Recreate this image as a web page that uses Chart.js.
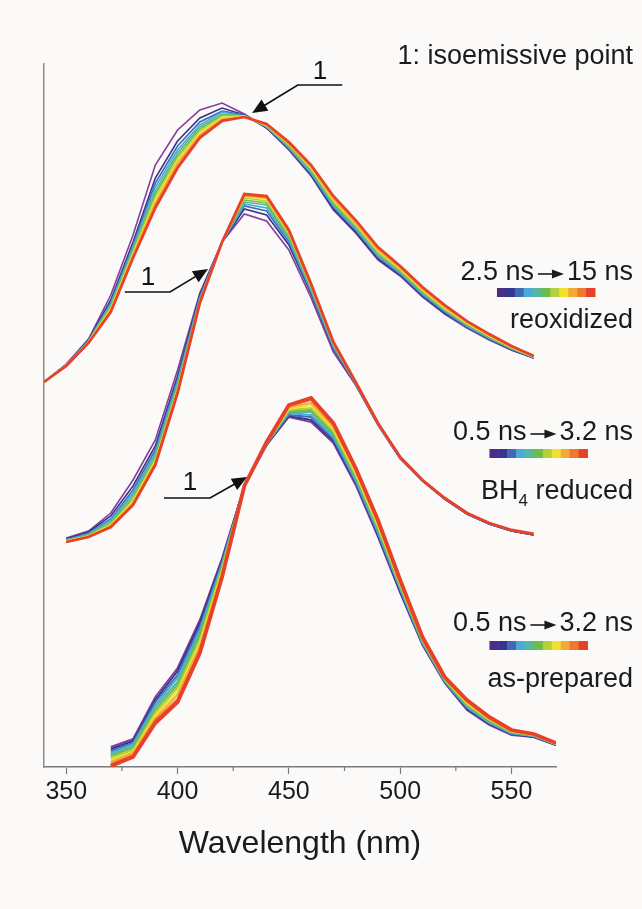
<!DOCTYPE html>
<html>
<head>
<meta charset="utf-8">
<title>Time-resolved emission spectra</title>
<script src="https://cdn.jsdelivr.net/npm/chart.js@4.4.0/dist/chart.umd.min.js"></script>
<style>
    html, body { margin: 0; padding: 0; background: #fcfaf8; }
    #wrap { width: 642px; height: 909px; position: relative; }
</style>
</head>
<body>
<div id="wrap"><canvas id="chart"></canvas></div>
<script>
// x values (nm) of each sample
const reoxWavelengths = [340, 350, 360, 370, 380, 390, 400, 410, 420, 430, 440, 450, 460, 470, 480, 490, 500, 510, 520, 530, 540, 550, 560];
const bh4Wavelengths = [350, 360, 370, 380, 390, 400, 410, 420, 430, 440, 450, 460, 470, 480, 490, 500, 510, 520, 530, 540, 550, 560];
const asPrepWavelengths = [370, 380, 390, 400, 410, 420, 430, 440, 450, 460, 470, 480, 490, 500, 510, 520, 530, 540, 550, 560, 570];

// stacked intensity (a.u.), one row per delay, earliest first
const reoxSpectra = [
    [385, 403, 428, 472, 532, 602, 637, 657, 664, 653, 639, 617, 591, 557, 534, 507, 491, 470, 453, 439, 427, 417, 409],
    [385, 402, 427, 467, 525, 589, 626, 649, 659, 652, 639, 618, 592, 558, 535, 508, 492, 471, 454, 440, 428, 417, 409],
    [385, 402, 426, 465, 522, 584, 621, 645, 656, 652, 640, 619, 593, 560, 537, 510, 493, 472, 455, 440, 428, 418, 409],
    [385, 402, 426, 463, 520, 580, 617, 642, 655, 651, 640, 619, 594, 561, 538, 511, 494, 473, 456, 441, 429, 418, 410],
    [385, 402, 426, 462, 518, 576, 614, 640, 653, 651, 641, 620, 595, 563, 539, 512, 495, 474, 457, 442, 429, 419, 410],
    [385, 402, 425, 460, 516, 573, 611, 638, 652, 651, 641, 621, 597, 564, 541, 514, 496, 475, 458, 443, 430, 419, 410],
    [385, 401, 425, 459, 515, 570, 609, 636, 651, 651, 641, 622, 598, 565, 542, 515, 497, 476, 458, 443, 431, 419, 410],
    [385, 401, 425, 458, 513, 567, 606, 634, 649, 651, 642, 623, 599, 567, 543, 516, 498, 477, 459, 444, 431, 420, 410],
    [385, 401, 424, 457, 512, 564, 604, 632, 648, 650, 642, 623, 600, 568, 544, 517, 499, 478, 460, 445, 432, 420, 411],
    [385, 401, 424, 456, 510, 562, 601, 631, 647, 650, 643, 624, 601, 570, 546, 519, 500, 479, 461, 445, 432, 421, 411],
    [385, 401, 424, 455, 509, 559, 599, 629, 646, 650, 643, 625, 602, 571, 547, 520, 501, 480, 462, 446, 433, 421, 411]
];

const bh4Spectra = [
    [229, 236, 254, 287, 327, 397, 474, 525, 553, 546, 517, 469, 415, 382, 342, 308, 286, 268, 253, 243, 236, 232],
    [228, 235, 251, 281, 321, 391, 472, 525, 558, 552, 522, 473, 418, 383, 343, 309, 286, 268, 253, 243, 236, 232],
    [227, 234, 248, 277, 317, 388, 470, 525, 561, 556, 525, 475, 419, 383, 343, 309, 286, 268, 253, 243, 236, 232],
    [227, 233, 247, 274, 314, 385, 469, 525, 563, 559, 527, 476, 420, 384, 343, 309, 287, 269, 254, 244, 237, 233],
    [227, 232, 245, 272, 312, 383, 468, 525, 565, 562, 529, 478, 421, 384, 343, 309, 287, 269, 254, 244, 237, 233],
    [226, 232, 244, 269, 309, 381, 467, 525, 567, 564, 531, 479, 422, 384, 343, 309, 287, 269, 254, 244, 237, 233],
    [226, 231, 243, 267, 307, 379, 466, 525, 569, 566, 533, 480, 423, 384, 344, 310, 287, 269, 254, 244, 237, 233],
    [226, 231, 242, 266, 306, 377, 465, 525, 570, 568, 534, 481, 424, 385, 344, 310, 287, 269, 254, 244, 237, 233],
    [225, 230, 241, 264, 304, 376, 465, 525, 571, 569, 535, 482, 424, 385, 344, 310, 287, 269, 254, 244, 237, 233],
    [225, 230, 240, 263, 303, 375, 464, 525, 572, 570, 536, 483, 425, 385, 344, 310, 287, 269, 254, 244, 237, 233],
    [225, 230, 240, 262, 302, 374, 464, 525, 573, 571, 537, 483, 425, 385, 344, 310, 287, 269, 254, 244, 237, 233]
];

const asPrepSpectra = [
    [20, 28, 70, 99, 147, 209, 281, 322, 350, 345, 324, 282, 230, 174, 122, 84, 57, 42, 32, 30, 22],
    [18, 26, 67, 96, 144, 207, 281, 322, 351, 347, 326, 284, 232, 175, 123, 85, 58, 43, 33, 30, 22],
    [16, 24, 65, 92, 140, 205, 281, 323, 352, 350, 328, 285, 233, 177, 124, 85, 59, 44, 33, 31, 22],
    [14, 23, 62, 89, 137, 203, 281, 323, 354, 352, 330, 287, 235, 178, 124, 86, 60, 44, 34, 31, 23],
    [12, 21, 60, 85, 134, 201, 281, 323, 355, 355, 332, 289, 237, 179, 125, 86, 61, 45, 34, 31, 23],
    [11, 19, 57, 82, 131, 200, 281, 324, 356, 357, 334, 291, 239, 181, 126, 87, 62, 46, 35, 32, 23],
    [9, 17, 54, 79, 127, 198, 281, 324, 357, 359, 336, 292, 240, 182, 127, 88, 63, 47, 35, 32, 23],
    [7, 15, 52, 75, 124, 196, 281, 324, 358, 362, 338, 294, 242, 183, 128, 88, 64, 48, 36, 32, 23],
    [5, 14, 49, 72, 121, 194, 281, 324, 360, 364, 340, 296, 244, 184, 128, 89, 65, 48, 36, 32, 24],
    [3, 12, 47, 68, 117, 192, 281, 325, 361, 367, 342, 297, 245, 186, 129, 89, 66, 49, 37, 33, 24],
    [1, 10, 44, 65, 114, 190, 281, 325, 362, 369, 344, 299, 247, 187, 130, 90, 67, 50, 37, 33, 24]
];

const tickValues = [350, 400, 450, 500, 550];
const minorTickValues = [375, 425, 475, 525];

// isoemissive point markers: label, line start, elbow and arrow tip in data units
const isoLabels = ['1', '1', '1'];
const isoLineStart = [[474, 682], [376.3, 475], [393.9, 269]];
const isoElbow = [[454, 682], [396.6, 475], [414.6, 269]];
const isoTip = [[433.5, 654], [413.7, 498], [431.2, 290]];
const isoTextPos = [[464, 695], [386.7, 489], [405.6, 284]];

const sampleNames = ['reoxidized', 'BH4 reduced', 'as-prepared'];
const delayStart = ['2.5 ns', '0.5 ns', '0.5 ns'];
const delayEnd = ['15 ns', '3.2 ns', '3.2 ns'];

const palette = ['#853d9b', '#33358f', '#3d6cb4', '#4aa9d8', '#55b7a2', '#6cbd4c', '#b3d13a', '#f1e12c', '#f1aa36', '#ee7a31', '#e7412a'];
const keyColors = ['#4b2f86', '#33358f', '#3d6cb4', '#4aa9d8', '#55b7a2', '#6cbd4c', '#b3d13a', '#f1e12c', '#f1aa36', '#ee7a31', '#e7412a'];

const FONT = "'Liberation Sans', Arial, sans-serif";
const TEXT = '#1b1b1b';
const AXIS = '#7a7a7a';

function buildDatasets(wl, spectra, thin, thick) {
    return spectra.map((row, i) => ({
        data: wl.map((x, j) => ({ x: x, y: row[j] })),
        borderColor: palette[i],
        borderWidth: i === spectra.length - 1 ? thick : thin,
        pointRadius: 0,
        tension: 0,
        fill: false,
        order: spectra.length - 1 - i
    }));
}

const datasets = [
    ...buildDatasets(reoxWavelengths, reoxSpectra, 1.6, 2.6),
    ...buildDatasets(bh4Wavelengths, bh4Spectra, 1.6, 2.8),
    ...buildDatasets(asPrepWavelengths, asPrepSpectra, 1.9, 3.8)
];

const background = {
    id: 'background',
    beforeDraw(chart) {
        const ctx = chart.ctx;
        ctx.save();
        ctx.fillStyle = '#fcfaf8';
        ctx.fillRect(0, 0, chart.width, chart.height);
        ctx.restore();
    }
};

const minorTicks = {
    id: 'minorTicks',
    afterDraw(chart) {
        const ctx = chart.ctx;
        const xs = chart.scales.x;
        const y0 = chart.chartArea.bottom;
        ctx.save();
        ctx.strokeStyle = AXIS;
        ctx.lineWidth = 1.2;
        minorTickValues.forEach(v => {
            const px = xs.getPixelForValue(v);
            ctx.beginPath();
            ctx.moveTo(px, y0);
            ctx.lineTo(px, y0 + 4);
            ctx.stroke();
        });
        ctx.restore();
    }
};

function arrowHead(ctx, fromX, fromY, toX, toY, len, half) {
    const ang = Math.atan2(toY - fromY, toX - fromX);
    ctx.beginPath();
    ctx.moveTo(toX, toY);
    ctx.lineTo(toX - len * Math.cos(ang) + half * Math.sin(ang), toY - len * Math.sin(ang) - half * Math.cos(ang));
    ctx.lineTo(toX - len * Math.cos(ang) - half * Math.sin(ang), toY - len * Math.sin(ang) + half * Math.cos(ang));
    ctx.closePath();
    ctx.fill();
}

const isoArrows = {
    id: 'isoArrows',
    afterDatasetsDraw(chart) {
        const ctx = chart.ctx;
        const xs = chart.scales.x, ys = chart.scales.y;
        ctx.save();
        ctx.strokeStyle = '#111';
        ctx.fillStyle = '#111';
        ctx.lineWidth = 1.7;
        isoLabels.forEach((label, k) => {
            const sx = xs.getPixelForValue(isoLineStart[k][0]), sy = ys.getPixelForValue(isoLineStart[k][1]);
            const ex = xs.getPixelForValue(isoElbow[k][0]), ey = ys.getPixelForValue(isoElbow[k][1]);
            const tx = xs.getPixelForValue(isoTip[k][0]), ty = ys.getPixelForValue(isoTip[k][1]);
            const ang = Math.atan2(ty - ey, tx - ex);
            ctx.beginPath();
            ctx.moveTo(sx, sy);
            ctx.lineTo(ex, ey);
            ctx.lineTo(tx - 8 * Math.cos(ang), ty - 8 * Math.sin(ang));
            ctx.stroke();
            arrowHead(ctx, ex, ey, tx, ty, 15, 6.5);

            ctx.font = '26px ' + FONT;
            ctx.textAlign = 'center';
            ctx.textBaseline = 'middle';
            ctx.fillText(label, xs.getPixelForValue(isoTextPos[k][0]), ys.getPixelForValue(isoTextPos[k][1]));
        });
        ctx.restore();
    }
};

// right-hand labels, in canvas pixels
const RIGHT_EDGE = 633;
const titleY = 57;
const rangeY = [273, 433, 624];
const barTop = [288, 449, 641];
const nameY = [321, 492, 680];
const LABEL_SIZE = 27;

const sideLabels = {
    id: 'sideLabels',
    afterDraw(chart) {
        const ctx = chart.ctx;
        const big = LABEL_SIZE + 'px ' + FONT;
        const small = '17px ' + FONT;
        ctx.save();
        ctx.fillStyle = TEXT;
        ctx.textBaseline = 'middle';
        ctx.font = big;
        ctx.textAlign = 'right';
        ctx.fillText('1: isoemissive point', RIGHT_EDGE, titleY);

        sampleNames.forEach((name, k) => {
            ctx.font = big;
            ctx.textAlign = 'left';
            const endW = ctx.measureText(delayEnd[k]).width;
            const startW = ctx.measureText(delayStart[k]).width;
            const endX = RIGHT_EDGE - endW;
            const arrowR = endX - 3;
            const arrowL = arrowR - 26;
            ctx.fillText(delayEnd[k], endX, rangeY[k]);
            ctx.fillText(delayStart[k], arrowL - 4 - startW, rangeY[k]);

            ctx.strokeStyle = TEXT;
            ctx.lineWidth = 1.6;
            ctx.beginPath();
            ctx.moveTo(arrowL, rangeY[k] + 1);
            ctx.lineTo(arrowR - 8, rangeY[k] + 1);
            ctx.stroke();
            arrowHead(ctx, arrowL, rangeY[k] + 1, arrowR, rangeY[k] + 1, 12, 4.5);

            // colour key
            const barL = arrowL - 41;
            const segW = 98 / keyColors.length;
            keyColors.forEach((c, i) => {
                ctx.fillStyle = c;
                ctx.fillRect(barL + i * segW, barTop[k], segW + 0.5, 9);
            });
            ctx.fillStyle = TEXT;

            // sample name, BH4 gets a subscript
            const m = name.match(/^(BH)(4)(.*)$/);
            if (m) {
                ctx.font = big;
                const w1 = ctx.measureText(m[1]).width;
                const w3 = ctx.measureText(m[3]).width;
                ctx.font = small;
                const w2 = ctx.measureText(m[2]).width;
                let x = RIGHT_EDGE - (w1 + w2 + w3);
                ctx.font = big;
                ctx.fillText(m[1], x, nameY[k]);
                x += w1;
                ctx.font = small;
                ctx.fillText(m[2], x, nameY[k] + 9);
                x += w2;
                ctx.font = big;
                ctx.fillText(m[3], x, nameY[k]);
            } else {
                ctx.textAlign = 'right';
                ctx.fillText(name, RIGHT_EDGE, nameY[k]);
            }
        });
        ctx.restore();
    }
};

new Chart(document.getElementById('chart'), {
    type: 'line',
    data: { datasets: datasets },
    options: {
        responsive: true,
        maintainAspectRatio: false,
        animation: false,
        events: [],
        layout: { padding: { left: 44, right: 86, top: 64, bottom: 45.6 } },
        plugins: {
            legend: { display: false },
            tooltip: { enabled: false },
            title: { display: false }
        },
        scales: {
            x: {
                type: 'linear',
                min: 340,
                max: 570,
                afterBuildTicks: scale => {
                    scale.ticks = tickValues.map(v => ({ value: v }));
                },
                grid: { drawOnChartArea: false, drawTicks: true, tickLength: 7, tickColor: AXIS, tickWidth: 1.2 },
                border: { display: true, color: AXIS, width: 1.5 },
                ticks: {
                    color: TEXT,
                    padding: 3,
                    maxRotation: 0,
                    font: { family: FONT, size: 25 },
                    callback: v => String(v)
                },
                title: {
                    display: true,
                    text: 'Wavelength (nm)',
                    color: TEXT,
                    font: { family: FONT, size: 32 },
                    padding: { top: 15, bottom: 0 }
                }
            },
            y: {
                type: 'linear',
                min: 0,
                max: 703,
                grid: { drawOnChartArea: false, drawTicks: false },
                border: { display: true, color: '#8d8d8d', width: 1.5 },
                ticks: { display: false }
            }
        }
    },
    plugins: [background, minorTicks, isoArrows, sideLabels]
});
</script>
</body>
</html>
